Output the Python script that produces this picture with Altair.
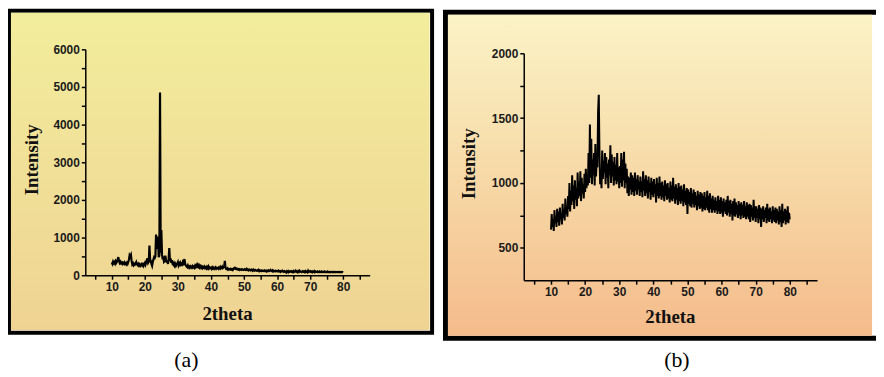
import altair as alt
import pandas as pd

# ---------------- data ----------------
x_start = 10.0
x_step = 0.2

# panel (a): intensity every 0.2 deg, 10 -> 80
intensity_a = [
    340, 300, 360, 320, 350, 310, 370, 330, 360, 420,
    480, 380, 330, 360, 320, 340, 300, 330, 310, 340,
    300, 320, 290, 330, 300, 350, 420, 530, 500, 540,
    380, 290, 320, 270, 300, 280, 310, 350, 290, 270,
    300, 260, 290, 250, 280, 300, 260, 290, 250, 300,
    330, 280, 340, 400, 450, 330, 360, 790, 420, 380,
    300, 250, 350, 420, 480, 460, 500, 1080, 700, 1000,
    1000, 480, 520, 4850, 600, 1200, 560, 420, 500, 360,
    380, 520, 420, 340, 400, 300, 420, 720, 380, 450,
    330, 400, 300, 280, 320, 260, 300, 250, 290, 310,
    350, 260, 300, 240, 320, 280, 270, 330, 260, 380,
    430, 300, 260, 240, 220, 260, 210, 230, 200, 240,
    220, 200, 240, 210, 230, 200, 250, 220, 270, 240,
    280, 230, 260, 210, 240, 200, 230, 190, 220, 200,
    230, 190, 210, 180, 220, 190, 230, 180, 210, 190,
    200, 170, 210, 180, 200, 170, 190, 210, 170, 190,
    180, 200, 170, 190, 220, 180, 200, 230, 190, 210,
    230, 380, 200, 170, 160, 180, 150, 170, 160, 150,
    170, 150, 160, 140, 170, 190, 200, 170, 180, 160,
    170, 150, 160, 140, 160, 150, 140, 160, 150, 140,
    150, 160, 140, 150, 170, 140, 150, 130, 150, 140,
    130, 150, 140, 120, 150, 130, 120, 140, 130, 120,
    130, 120, 140, 110, 130, 120, 110, 130, 120, 110,
    120, 130, 110, 120, 100, 120, 110, 130, 110, 120,
    140, 120, 110, 130, 100, 120, 110, 100, 120, 110,
    110, 100, 120, 100, 110, 90, 110, 100, 120, 100,
    90, 110, 100, 80, 70, 110, 100, 80, 110, 90,
    100, 110, 90, 100, 80, 110, 90, 100, 120, 90,
    100, 80, 110, 90, 120, 100, 90, 80, 100, 110,
    90, 100, 80, 110, 90, 100, 80, 120, 90, 100,
    110, 90, 100, 80, 100, 90, 110, 80, 100, 90,
    90, 100, 80, 90, 100, 80, 90, 100, 80, 90,
    90, 80, 100, 90, 80, 90, 100, 80, 90, 85,
    90, 80, 90, 85, 80, 90, 80, 85, 90, 80,
    85, 90, 80, 85, 90, 80, 85, 80, 90, 85,
    80,
]

# panel (b): intensity every 0.2 deg, 10 -> 80
intensity_b = [
    640, 760, 660, 720, 630, 790, 690, 740, 660, 800,
    700, 780, 670, 810, 720, 760, 680, 840, 730, 790,
    710, 880, 760, 820, 740, 900, 800, 1000, 780, 940,
    830, 1060, 860, 980, 800, 1020, 870, 960, 820, 1080,
    880, 1010, 900, 1090, 860, 1040, 920, 990, 880, 1070,
    930, 1110, 960, 1050, 980, 1230, 1000, 1450, 1040, 1340,
    990, 1180, 1060, 1230, 980, 1300, 1050, 1200, 1120, 1550,
    1680, 1240, 990, 1100, 960, 1250, 1030, 1170, 1080, 1230,
    990, 1200, 1040, 1150, 960, 1180, 1060, 1290, 1000, 1220,
    1050, 1160, 980, 1200, 1020, 1140, 990, 1230, 1010, 1120,
    960, 1130, 1000, 1230, 970, 1180, 1020, 1240, 960, 1150,
    1000, 1110, 920, 1050, 900, 1040, 950, 1080, 910, 1060,
    930, 1040, 900, 1080, 940, 1030, 910, 1060, 950, 1010,
    900, 1050, 930, 1010, 890, 1090, 940, 1030, 900, 1060,
    920, 1020, 880, 1050, 930, 1000, 870, 1040, 910, 1010,
    890, 1030, 920, 990, 850, 1040, 900, 1000, 880, 1050,
    900, 1000, 870, 1010, 890, 980, 860, 1020, 900, 990,
    870, 1000, 880, 960, 850, 1010, 870, 980, 860, 1040,
    880, 970, 840, 990, 870, 960, 830, 1000, 860, 970,
    840, 980, 860, 950, 820, 990, 850, 940, 830, 960,
    760, 950, 840, 930, 820, 960, 810, 920, 840, 950,
    810, 930, 830, 900, 790, 940, 820, 910, 800, 930,
    810, 920, 780, 900, 800, 930, 790, 890, 810, 940,
    790, 900, 770, 920, 800, 880, 770, 900, 790, 870,
    770, 890, 790, 860, 760, 900, 780, 870, 760, 890,
    770, 860, 740, 880, 780, 850, 760, 870, 750, 900,
    770, 860, 740, 870, 760, 840, 710, 860, 750, 880,
    740, 850, 760, 830, 730, 860, 750, 840, 720, 850,
    750, 830, 730, 860, 740, 820, 720, 850, 740, 830,
    720, 840, 700, 830, 740, 810, 710, 870, 730, 820,
    700, 820, 730, 800, 690, 830, 720, 810, 660, 800,
    720, 820, 700, 790, 730, 810, 690, 840, 710, 800,
    700, 810, 720, 780, 690, 820, 710, 790, 700, 810,
    690, 800, 710, 780, 680, 820, 700, 790, 660, 840,
    690, 780, 710, 800, 680, 790, 700, 820, 690, 770,
    720,
]

x_ticks = [5, 10, 15, 20, 25, 30, 35, 40, 45, 50, 55, 60, 65, 70, 75, 80, 85]
y_ticks_a = [0, 500, 1000, 1500, 2000, 2500, 3000, 3500, 4000, 4500, 5000, 5500, 6000]
y_ticks_b = [500, 750, 1000, 1250, 1500, 1750, 2000]
captions = ["(a)", "(b)"]

theta_a = [round(x_start + i * x_step, 1) for i in range(len(intensity_a))]
theta_b = [round(x_start + i * x_step, 1) for i in range(len(intensity_b))]
df_a = pd.DataFrame({"theta": theta_a, "I": intensity_a})
df_b = pd.DataFrame({"theta": theta_b, "I": intensity_b})
one = pd.DataFrame({"k": [0]})

# ---------------- styling ----------------
axis_common = dict(
    domainColor="black", domainWidth=1.5, tickColor="black", tickWidth=1.5,
    tickSize=4, labelFont="Liberation Sans", labelFontWeight="bold",
    labelFontSize=12, labelColor="#1a1a1a", labelPadding=2,
    titleFont="Liberation Serif", titleFontWeight="bold", titleFontSize=19,
    titleColor="#111111", titleBaseline="middle", grid=False, zindex=1,
    format="d",
)

x_label_expr = "datum.value % 10 == 0 && datum.value >= 10 && datum.value <= 80 ? datum.label : ''"


def box(x1, x2, y1, y2, **kw):
    return alt.Chart(one).mark_rect(**kw).encode(
        x=alt.value(x1), x2=alt.value(x2), y=alt.value(y1), y2=alt.value(y2)
    )


grad_a = alt.Gradient(
    gradient="linear",
    stops=[alt.GradientStop(color="#f2ed9c", offset=0),
           alt.GradientStop(color="#efd393", offset=1)],
    x1=0, x2=0, y1=0, y2=1,
)
grad_b = alt.Gradient(
    gradient="linear",
    stops=[alt.GradientStop(color="#fbf3c6", offset=0),
           alt.GradientStop(color="#f7dcaa", offset=0.45),
           alt.GradientStop(color="#f5bb8b", offset=1)],
    x1=0, x2=0, y1=0, y2=1,
)

frame_a = box(-77, 350, -39, 286, fill="white", stroke="black", strokeWidth=4)
fill_a = box(-75, 347.5, -37, 283.5, fill=grad_a)
frame_b = box(363.5, 810, -37.5, 291.5, fill="white", stroke="black", strokeWidth=5)
fill_b = box(366, 794, -35, 289, fill=grad_b)

line_a = alt.Chart(df_a).mark_line(color="black", strokeWidth=2.2).encode(
    x=alt.X("theta:Q",
            scale=alt.Scale(domain=[2, 88], range=[0, 287], nice=False, zero=False),
            axis=alt.Axis(orient="bottom", offset=-5, values=x_ticks,
                          labelExpr=x_label_expr, title="2theta",
                          titleX=143, titleY=39, **axis_common)),
    y=alt.Y("I:Q",
            scale=alt.Scale(domain=[0, 6000], range=[228, 0], nice=False, zero=False),
            axis=alt.Axis(orient="left", offset=0, values=y_ticks_a,
                          labelExpr="datum.value % 1000 == 0 ? datum.label : ''",
                          title="Intensity", titleX=-54, titleY=111,
                          **axis_common)),
)

line_b = alt.Chart(df_b).mark_line(color="black", strokeWidth=2.0).encode(
    x=alt.X("theta:Q",
            scale=alt.Scale(domain=[2, 88], range=[442.5, 738.5], nice=False, zero=False),
            axis=alt.Axis(orient="bottom", offset=0, values=x_ticks,
                          labelExpr=x_label_expr, title="2theta",
                          titleX=590, titleY=37, **axis_common)),
    y=alt.Y("I:Q",
            scale=alt.Scale(domain=[250, 2000], range=[233, 4], nice=False, zero=False),
            axis=alt.Axis(orient="left", offset=-442.5, values=y_ticks_b,
                          labelExpr="datum.value % 500 == 0 ? datum.label : ''",
                          title="Intensity", titleX=-55.5, titleY=115,
                          **axis_common)),
)

cap_a = alt.Chart(one).mark_text(
    text=captions[0], font="Liberation Serif", fontSize=22, color="black"
).encode(x=alt.value(102), y=alt.value(314))
cap_b = alt.Chart(one).mark_text(
    text=captions[1], font="Liberation Serif", fontSize=22, color="black"
).encode(x=alt.value(597), y=alt.value(314))

chart = alt.layer(
    frame_a, fill_a, frame_b, fill_b, line_a, line_b, cap_a, cap_b
).resolve_scale(
    x="independent", y="independent"
).resolve_axis(
    x="independent", y="independent"
).properties(
    width=737, height=233,
    padding={"left": 78, "top": 40, "right": 61, "bottom": 96},
    autosize=alt.AutoSizeParams(type="none"),
    background="white",
).configure_view(stroke=None)

chart.save("out.html", embed_options={"renderer": "svg", "actions": False})
